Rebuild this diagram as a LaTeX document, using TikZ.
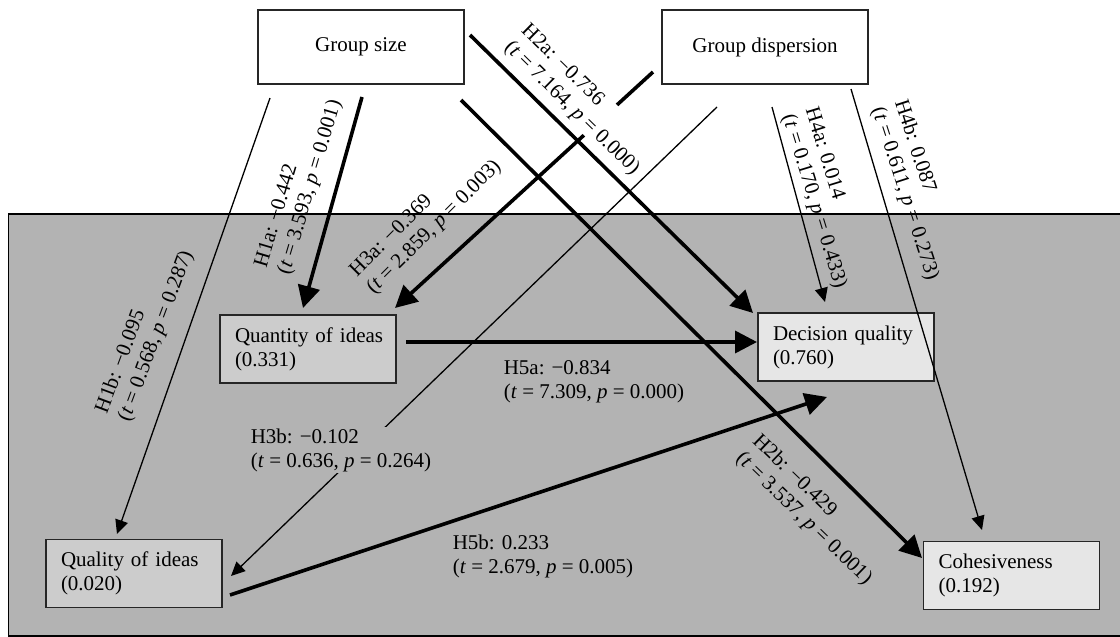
\documentclass[tikz,border=0pt]{standalone}
\usepackage{fontspec}
\setmainfont{Liberation Serif}
\usetikzlibrary{arrows.meta}
\definecolor{bggray}{HTML}{B3B3B3}
\definecolor{midbox}{HTML}{CCCCCC}
\definecolor{lightbox}{HTML}{E6E6E6}
\begin{document}
\begin{tikzpicture}[x=1pt,y=-1pt,
  every node/.style={font=\fontsize{21}{24}\selectfont},
  topbox/.style={draw=black!85, line width=1.2pt, fill=white, minimum width=206pt, minimum height=74pt, inner sep=0pt},
  lowbox/.style={draw=black!85, line width=1.2pt, minimum width=176pt, minimum height=68pt, inner xsep=15pt, inner ysep=0pt, text width=146pt, align=left},
  strong/.style={line width=3.6pt, -{Triangle[length=22pt,width=22pt]}},
  weak/.style={line width=1.3pt, -{Triangle[length=14pt,width=13pt]}},
  lab/.style={align=left, inner sep=1pt},
]
\clip (0,0) rectangle (1120,637);
\fill[white] (0,0) rectangle (1120,637);
\draw[fill=bggray, line width=1.2pt] (8.5,214) rectangle (1150,636);

\node[topbox] (gs) at (361,47) {Group size};
\node[topbox] (gd) at (765,47) {Group dispersion};
\node[lowbox, fill=midbox] (qn) at (308,349) {\mbox{Quantity of ideas}\\(0.331)};
\node[lowbox, fill=midbox] (ql) at (134,573.5) {\mbox{Quality of ideas}\\(0.020)};
\node[lowbox, fill=lightbox] (dq) at (846,347) {\mbox{Decision quality}\\(0.760)};
\node[lowbox, fill=lightbox] (co) at (1011.5,575.5) {\mbox{Cohesiveness}\\(0.192)};

\coordinate (h1as) at (362,97);  \coordinate (h1ae) at (303,308);
\coordinate (h1bs) at (270,98);  \coordinate (h1be) at (117,534);
\coordinate (h2as) at (470,35);  \coordinate (h2ae) at (753,313);
\coordinate (h2bs) at (461,100); \coordinate (h2be) at (922,558);
\coordinate (h3as) at (653,72);  \coordinate (h3ae) at (395,308);
\coordinate (h3bs) at (717,107); \coordinate (h3be) at (231,576);
\coordinate (h4as) at (772,107); \coordinate (h4ae) at (825,302);
\coordinate (h4bs) at (851,89);  \coordinate (h4be) at (982,530);
\coordinate (h5as) at (406,342); \coordinate (h5ae) at (757,342);
\coordinate (h5bs) at (230,595); \coordinate (h5be) at (827,397);

\draw[strong] (h1as) -- (h1ae);
\draw[weak]   (h1bs) -- (h1be);
\draw[strong] (h2as) -- (h2ae);
\draw[strong] (h2bs) -- (h2be);
\draw[strong] (h3as) -- (h3ae);
\draw[weak]   (h3bs) -- (h3be);
\draw[weak]   (h4as) -- (h4ae);
\draw[weak]   (h4bs) -- (h4be);
\draw[strong] (h5as) -- (h5ae);
\draw[strong] (h5bs) -- (h5be);

\node[lab, rotate=73.5] (l1a) at (299,184) {H1a: −0.442\\(\textit{t} = 3.593, \textit{p} = 0.001)};
\node[lab, rotate=69.5] (l1b) at (145,332) {H1b: −0.095\\(\textit{t} = 0.568, \textit{p} = 0.287)};
\node[lab, rotate=-44.5, fill=white] (l2a) at (580,100) {H2a: −0.736\\(\textit{t} = 7.164, \textit{p} = 0.000)};
\node[lab, rotate=-44] (l2b) at (812,510) {H2b: −0.429\\(\textit{t} = 3.537, \textit{p} = 0.001)};
\node[lab, rotate=45] (l3a) at (426,219) {H3a: −0.369\\(\textit{t} = 2.859, \textit{p} = 0.003)};
\node[lab, fill=bggray] (l3b) at (341,450) {H3b: −0.102\\(\textit{t} = 0.636, \textit{p} = 0.264)};
\node[lab, rotate=-73] (l4a) at (825,198) {H4a: 0.014\\(\textit{t} = 0.170, \textit{p} = 0.433)};
\node[lab, rotate=-72] (l4b) at (916,190) {H4b: 0.087\\(\textit{t} = 0.611, \textit{p} = 0.273)};
\node[lab] (l5a) at (594,382) {H5a: −0.834\\(\textit{t} = 7.309, \textit{p} = 0.000)};
\node[lab] (l5b) at (543,556) {H5b: 0.233\\(\textit{t} = 2.679, \textit{p} = 0.005)};
\end{tikzpicture}
\end{document}
